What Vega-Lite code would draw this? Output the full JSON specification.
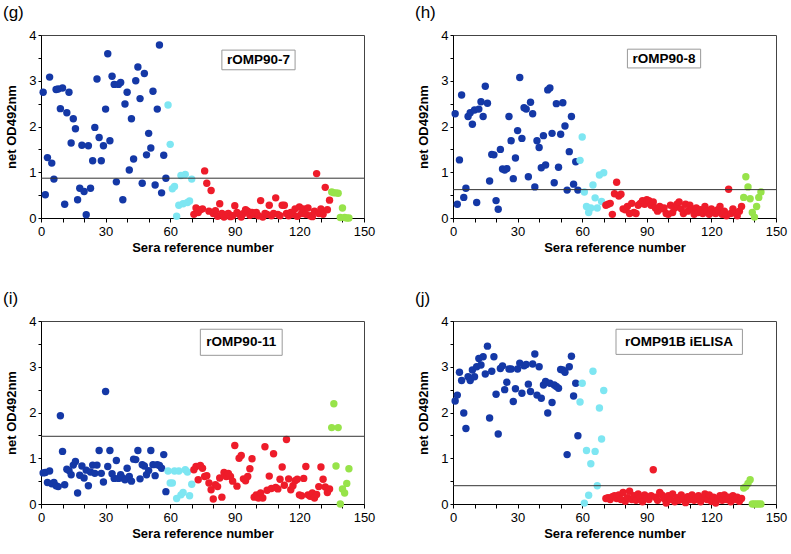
{
"$schema":"https://vega.github.io/schema/vega-lite/v6.json",
"background":"white",
"padding":{"left":2,"top":3,"right":5,"bottom":5},
"bounds":"flush",
"columns":2,
"spacing":{"row":103,"column":89},
"config":{"font":"Liberation Sans","view":{"stroke":"#444","strokeWidth":1},
"axis":{"grid":false,"domainColor":"#000","tickColor":"#000","labelColor":"#000","titleColor":"#000","labelFontSize":13,"titleFontSize":13,"titleFontWeight":"bold","labelFlush":false,"labelOverlap":false,"tickCount":30},
"axisX":{"tickSize":4,"labelPadding":3,"titlePadding":3},
"axisY":{"tickSize":3,"labelPadding":2,"titlePadding":10},
"title":{"fontSize":17,"fontWeight":"normal","color":"#000","anchor":"start","frame":"group","dx":-38,"offset":7}},
"datasets":{"sera":[
{"n":1,"s":"a","g":2.75,"h":2.28,"i":0.68,"j":2.25},
{"n":2,"s":"a","g":0.51,"h":0.3,"i":0.69,"j":2.38},
{"n":3,"s":"a","g":1.32,"h":1.27,"i":0.47,"j":2.88},
{"n":4,"s":"a","g":3.08,"h":2.69,"i":0.72,"j":2.7},
{"n":5,"s":"a","g":1.2,"h":0.45,"i":0.44,"j":1.99},
{"n":6,"s":"a","g":0.85,"h":0.65,"i":0.47,"j":1.65},
{"n":7,"s":"a","g":2.81,"h":2.22,"i":0.4,"j":2.78},
{"n":8,"s":"a","g":2.82,"h":2.3,"i":0.38,"j":2.7},
{"n":9,"s":"a","g":2.39,"h":2.05,"i":1.93,"j":2.93},
{"n":10,"s":"a","g":2.84,"h":2.36,"i":1.15,"j":2.78},
{"n":11,"s":"a","g":0.3,"h":0.34,"i":0.42,"j":3.0},
{"n":12,"s":"a","g":2.3,"h":2.38,"i":0.76,"j":3.18},
{"n":13,"s":"a","g":2.75,"h":2.54,"i":0.73,"j":3.04},
{"n":14,"s":"a","g":1.64,"h":2.22,"i":0.64,"j":3.22},
{"n":15,"s":"a","g":2.17,"h":2.88,"i":0.85,"j":2.84},
{"n":16,"s":"a","g":1.95,"h":2.51,"i":0.93,"j":3.45},
{"n":17,"s":"a","g":0.4,"h":0.81,"i":0.24,"j":1.88},
{"n":18,"s":"a","g":0.65,"h":1.39,"i":0.63,"j":2.9},
{"n":19,"s":"a","g":1.59,"h":1.38,"i":0.83,"j":3.22},
{"n":20,"s":"a","g":0.58,"h":0.38,"i":0.57,"j":2.4},
{"n":21,"s":"a","g":0.07,"h":0.19,"i":0.74,"j":1.53},
{"n":22,"s":"a","g":1.58,"h":1.5,"i":0.4,"j":2.96},
{"n":23,"s":"a","g":0.65,"h":1.07,"i":0.7,"j":3.02},
{"n":24,"s":"a","g":1.25,"h":1.05,"i":0.85,"j":2.5},
{"n":25,"s":"a","g":1.98,"h":1.08,"i":0.67,"j":2.66},
{"n":26,"s":"a","g":3.04,"h":2.22,"i":0.85,"j":2.95},
{"n":27,"s":"a","g":1.76,"h":1.69,"i":1.17,"j":2.95},
{"n":28,"s":"a","g":1.25,"h":0.86,"i":0.67,"j":2.24},
{"n":29,"s":"a","g":1.58,"h":1.31,"i":0.48,"j":2.52},
{"n":30,"s":"a","g":2.38,"h":1.91,"i":2.46,"j":2.95},
{"n":31,"s":"a","g":3.59,"h":3.07,"i":0.82,"j":3.08},
{"n":32,"s":"a","g":1.69,"h":1.74,"i":1.17,"j":2.42},
{"n":33,"s":"a","g":3.1,"h":2.41,"i":0.66,"j":3.02},
{"n":34,"s":"a","g":2.92,"h":2.38,"i":0.56,"j":3.05},
{"n":35,"s":"a","g":0.79,"h":0.9,"i":0.95,"j":2.62},
{"n":36,"s":"a","g":2.92,"h":2.53,"i":0.56,"j":2.46},
{"n":37,"s":"a","g":2.96,"h":2.28,"i":0.64,"j":3.06},
{"n":38,"s":"a","g":0.4,"h":0.68,"i":0.57,"j":3.28},
{"n":39,"s":"a","g":2.49,"h":1.69,"i":0.53,"j":2.38},
{"n":40,"s":"a","g":2.75,"h":1.54,"i":0.78,"j":3.0},
{"n":41,"s":"a","g":1.05,"h":1.1,"i":0.6,"j":2.31},
{"n":42,"s":"a","g":2.17,"h":1.8,"i":0.5,"j":2.6},
{"n":43,"s":"a","g":1.29,"h":1.16,"i":0.98,"j":2.68},
{"n":44,"s":"a","g":3.0,"h":2.8,"i":0.97,"j":1.99},
{"n":45,"s":"a","g":3.3,"h":2.84,"i":1.17,"j":2.64},
{"n":46,"s":"a","g":2.61,"h":1.85,"i":0.55,"j":2.22},
{"n":47,"s":"a","g":0.76,"h":0.77,"i":0.86,"j":2.6},
{"n":48,"s":"a","g":3.16,"h":2.5,"i":0.83,"j":2.57},
{"n":49,"s":"a","g":1.38,"h":1.11,"i":0.64,"j":2.53},
{"n":50,"s":"a","g":1.85,"h":1.83,"i":0.73,"j":2.94},
{"n":51,"s":"a","g":1.53,"h":2.52,"i":1.17,"j":2.93},
{"n":52,"s":"a","g":2.77,"h":2.01,"i":0.86,"j":2.88},
{"n":53,"s":"a","g":0.72,"h":0.61,"i":0.62,"j":1.08},
{"n":54,"s":"a","g":2.38,"h":1.45,"i":0.86,"j":3.0},
{"n":55,"s":"a","g":3.78,"h":2.22,"i":0.84,"j":3.23},
{"n":56,"s":"a","g":0.55,"h":0.74,"i":0.78,"j":2.36},
{"n":57,"s":"a","g":1.37,"h":1.23,"i":1.08,"j":2.64},
{"n":58,"s":"a","g":0.87,"h":0.61,"i":0.27,"j":1.49},
{"n":59,"s":"b","g":2.47,"h":1.26,"i":0.72,"j":2.23},
{"n":60,"s":"b","g":1.61,"h":1.77,"i":0.46,"j":2.64},
{"n":61,"s":"b","g":0.64,"h":0.57,"i":0.46,"j":0.02},
{"n":62,"s":"b","g":0.69,"h":0.25,"i":0.72,"j":1.17},
{"n":63,"s":"b","g":0.04,"h":0.12,"i":0.12,"j":0.19},
{"n":64,"s":"b","g":0.28,"h":0.22,"i":0.72,"j":0.88},
{"n":65,"s":"b","g":0.93,"h":0.72,"i":0.2,"j":2.9},
{"n":66,"s":"b","g":0.31,"h":0.44,"i":0.25,"j":1.15},
{"n":67,"s":"b","g":0.95,"h":0.22,"i":0.75,"j":0.4},
{"n":68,"s":"b","g":0.34,"h":0.94,"i":0.7,"j":2.1},
{"n":69,"s":"b","g":0.37,"h":0.36,"i":0.18,"j":1.42},
{"n":70,"s":"b","g":0.85,"h":0.99,"i":0.43,"j":2.48},
{"n":71,"s":"c","g":0.08,"h":0.28,"i":0.75,"j":0.12},
{"n":72,"s":"c","g":0.22,"h":0.3,"i":0.82,"j":0.14},
{"n":73,"s":"c","g":0.12,"h":0.32,"i":0.53,"j":0.1},
{"n":74,"s":"c","g":0.18,"h":0.08,"i":0.84,"j":0.16},
{"n":75,"s":"c","g":0.2,"h":0.53,"i":0.78,"j":0.18},
{"n":76,"s":"c","g":1.03,"h":0.78,"i":0.6,"j":0.12},
{"n":77,"s":"c","g":0.76,"h":0.48,"i":0.62,"j":0.2},
{"n":78,"s":"c","g":0.15,"h":0.52,"i":0.46,"j":0.1},
{"n":79,"s":"c","g":0.6,"h":0.2,"i":0.31,"j":0.25},
{"n":80,"s":"c","g":0.1,"h":0.18,"i":0.11,"j":0.06},
{"n":81,"s":"c","g":0.16,"h":0.25,"i":0.42,"j":0.14},
{"n":82,"s":"c","g":0.04,"h":0.1,"i":0.38,"j":0.28},
{"n":83,"s":"c","g":0.31,"h":0.32,"i":0.57,"j":0.1},
{"n":84,"s":"c","g":0.1,"h":0.12,"i":0.15,"j":0.18},
{"n":85,"s":"c","g":0.02,"h":0.1,"i":0.69,"j":0.08},
{"n":86,"s":"c","g":0.08,"h":0.28,"i":0.6,"j":0.22},
{"n":87,"s":"c","g":0.1,"h":0.32,"i":0.67,"j":0.15},
{"n":88,"s":"c","g":0.03,"h":0.38,"i":0.6,"j":0.05},
{"n":89,"s":"c","g":0.05,"h":0.3,"i":0.5,"j":0.2},
{"n":90,"s":"c","g":0.27,"h":0.4,"i":1.28,"j":0.12},
{"n":91,"s":"c","g":0.12,"h":0.38,"i":0.39,"j":0.1},
{"n":92,"s":"c","g":0.08,"h":0.28,"i":1.0,"j":0.18},
{"n":93,"s":"c","g":0.02,"h":0.35,"i":1.06,"j":0.75},
{"n":94,"s":"c","g":0.1,"h":0.22,"i":0.55,"j":0.15},
{"n":95,"s":"c","g":0.18,"h":0.15,"i":0.51,"j":0.08},
{"n":96,"s":"c","g":0.15,"h":0.25,"i":0.6,"j":0.25},
{"n":97,"s":"c","g":0.06,"h":0.2,"i":0.77,"j":0.2},
{"n":98,"s":"c","g":0.12,"h":0.22,"i":0.99,"j":0.12},
{"n":99,"s":"c","g":0.08,"h":0.1,"i":0.15,"j":0.02},
{"n":100,"s":"c","g":0.12,"h":0.08,"i":0.2,"j":0.18},
{"n":101,"s":"c","g":0.05,"h":0.28,"i":0.13,"j":0.1},
{"n":102,"s":"c","g":0.38,"h":0.12,"i":0.24,"j":0.22},
{"n":103,"s":"c","g":0.02,"h":0.22,"i":0.13,"j":0.05},
{"n":104,"s":"c","g":0.1,"h":0.3,"i":1.25,"j":0.14},
{"n":105,"s":"c","g":0.08,"h":0.35,"i":0.3,"j":0.08},
{"n":106,"s":"c","g":0.28,"h":0.2,"i":0.61,"j":0.2},
{"n":107,"s":"c","g":0.05,"h":0.1,"i":0.34,"j":0.12},
{"n":108,"s":"c","g":0.1,"h":0.3,"i":1.1,"j":0.03},
{"n":109,"s":"c","g":0.44,"h":0.15,"i":0.36,"j":0.16},
{"n":110,"s":"c","g":0.08,"h":0.28,"i":0.33,"j":0.1},
{"n":111,"s":"c","g":0.05,"h":0.2,"i":0.54,"j":0.2},
{"n":112,"s":"c","g":0.28,"h":0.08,"i":0.81,"j":0.08},
{"n":113,"s":"c","g":0.28,"h":0.22,"i":0.41,"j":0.14},
{"n":114,"s":"c","g":0.1,"h":0.12,"i":1.41,"j":0.18},
{"n":115,"s":"c","g":0.05,"h":0.18,"i":0.55,"j":0.05},
{"n":116,"s":"c","g":0.12,"h":0.1,"i":0.31,"j":0.12},
{"n":117,"s":"c","g":0.08,"h":0.25,"i":0.4,"j":0.22},
{"n":118,"s":"c","g":0.2,"h":0.15,"i":0.51,"j":0.1},
{"n":119,"s":"c","g":0.04,"h":0.08,"i":0.54,"j":0.2},
{"n":120,"s":"c","g":0.24,"h":0.2,"i":0.2,"j":0.06},
{"n":121,"s":"c","g":0.1,"h":0.12,"i":0.18,"j":0.15},
{"n":122,"s":"c","g":0.2,"h":0.1,"i":0.56,"j":0.02},
{"n":123,"s":"c","g":0.08,"h":0.18,"i":0.82,"j":0.12},
{"n":124,"s":"c","g":0.22,"h":0.25,"i":0.2,"j":0.18},
{"n":125,"s":"c","g":0.05,"h":0.08,"i":0.17,"j":0.08},
{"n":126,"s":"c","g":0.03,"h":0.15,"i":0.24,"j":0.2},
{"n":127,"s":"c","g":0.15,"h":0.05,"i":0.13,"j":0.1},
{"n":128,"s":"c","g":0.97,"h":0.63,"i":0.21,"j":0.15},
{"n":129,"s":"c","g":0.1,"h":0.1,"i":0.38,"j":0.05},
{"n":130,"s":"c","g":0.2,"h":0.2,"i":0.81,"j":0.18},
{"n":131,"s":"c","g":0.08,"h":0.12,"i":0.54,"j":0.1},
{"n":132,"s":"c","g":0.67,"h":0.05,"i":0.37,"j":0.15},
{"n":133,"s":"c","g":0.18,"h":0.15,"i":0.25,"j":0.06},
{"n":134,"s":"c","g":0.39,"h":0.25,"i":0.33,"j":0.12},
{"n":135,"s":"d","g":0.57,"h":0.45,"i":1.67,"j":0.35},
{"n":136,"s":"d","g":0.55,"h":0.9,"i":2.19,"j":0.38},
{"n":137,"s":"d","g":0.55,"h":0.68,"i":0.83,"j":0.45},
{"n":138,"s":"d","g":0.54,"h":0.42,"i":1.67,"j":0.53},
{"n":139,"s":"d","g":0.01,"h":0.12,"i":0.0,"j":0.0},
{"n":140,"s":"d","g":0.22,"h":0.02,"i":0.33,"j":0.0},
{"n":141,"s":"d","g":0.01,"h":0.25,"i":0.24,"j":0.0},
{"n":142,"s":"d","g":0.0,"h":0.45,"i":0.45,"j":0.0},
{"n":143,"s":"d","g":0.0,"h":0.57,"i":0.77,"j":0.0}
]},
"concat":[
{"width":323,"height":183,"title":{"text":"(g)"},
"layer":[
{"data":{"name":"sera"},"mark":{"type":"circle","size":55,"opacity":1},
"encoding":{"x":{"field":"n","type":"quantitative","scale":{"domain":[0,150],"nice":false},"axis":{"title":"Sera reference number","labelOverlap":false,"tickCount":30,"values":[0,10,20,30,40,50,60,70,80,90,100,110,120,130,140,150],"labelExpr":"datum.value % 30 === 0 ? format(datum.value, 'd') : ''"}},
"y":{"field":"g","type":"quantitative","scale":{"domain":[0,4],"nice":false},"axis":{"title":"net OD492nm","labelOverlap":false,"tickCount":30,"values":[0,0.5,1,1.5,2,2.5,3,3.5,4],"labelExpr":"datum.value % 1 === 0 ? format(datum.value, 'd') : ''"}},
"color":{"field":"s","type":"nominal","scale":{"domain":["a","b","c","d"],"range":["#1438a6","#7ee6f2","#ee1c2a","#97e34a"]},"legend":null}}},
{"data":{"values":[{}]},"mark":{"type":"rule","color":"#333","strokeWidth":1},"encoding":{"y":{"datum":0.87}}},
{"data":{"values":[{}]},"mark":{"type":"rect","fill":"white","stroke":"#999","strokeWidth":1},"encoding":{"x":{"datum":84},"x2":{"datum":118},"y":{"datum":3.67},"y2":{"datum":3.24}}},
{"data":{"values":[{}]},"mark":{"type":"text","fontWeight":"bold","fontSize":13.5,"color":"#000"},"encoding":{"x":{"datum":101},"y":{"datum":3.455},"text":{"value":"rOMP90-7"}}}
]},
{"width":323,"height":183,"title":{"text":"(h)"},
"layer":[
{"data":{"name":"sera"},"mark":{"type":"circle","size":55,"opacity":1},
"encoding":{"x":{"field":"n","type":"quantitative","scale":{"domain":[0,150],"nice":false},"axis":{"title":"Sera reference number","labelOverlap":false,"tickCount":30,"values":[0,10,20,30,40,50,60,70,80,90,100,110,120,130,140,150],"labelExpr":"datum.value % 30 === 0 ? format(datum.value, 'd') : ''"}},
"y":{"field":"h","type":"quantitative","scale":{"domain":[0,4],"nice":false},"axis":{"title":"net OD492nm","labelOverlap":false,"tickCount":30,"values":[0,0.5,1,1.5,2,2.5,3,3.5,4],"labelExpr":"datum.value % 1 === 0 ? format(datum.value, 'd') : ''"}},
"color":{"field":"s","type":"nominal","scale":{"domain":["a","b","c","d"],"range":["#1438a6","#7ee6f2","#ee1c2a","#97e34a"]},"legend":null}}},
{"data":{"values":[{}]},"mark":{"type":"rule","color":"#333","strokeWidth":1},"encoding":{"y":{"datum":0.62}}},
{"data":{"values":[{}]},"mark":{"type":"rect","fill":"white","stroke":"#999","strokeWidth":1},"encoding":{"x":{"datum":81},"x2":{"datum":115},"y":{"datum":3.69},"y2":{"datum":3.28}}},
{"data":{"values":[{}]},"mark":{"type":"text","fontWeight":"bold","fontSize":13.5,"color":"#000"},"encoding":{"x":{"datum":98},"y":{"datum":3.485},"text":{"value":"rOMP90-8"}}}
]},
{"width":323,"height":183,"title":{"text":"(i)"},
"layer":[
{"data":{"name":"sera"},"mark":{"type":"circle","size":55,"opacity":1},
"encoding":{"x":{"field":"n","type":"quantitative","scale":{"domain":[0,150],"nice":false},"axis":{"title":"Sera reference number","labelOverlap":false,"tickCount":30,"values":[0,10,20,30,40,50,60,70,80,90,100,110,120,130,140,150],"labelExpr":"datum.value % 30 === 0 ? format(datum.value, 'd') : ''"}},
"y":{"field":"i","type":"quantitative","scale":{"domain":[0,4],"nice":false},"axis":{"title":"net OD492nm","labelOverlap":false,"tickCount":30,"values":[0,0.5,1,1.5,2,2.5,3,3.5,4],"labelExpr":"datum.value % 1 === 0 ? format(datum.value, 'd') : ''"}},
"color":{"field":"s","type":"nominal","scale":{"domain":["a","b","c","d"],"range":["#1438a6","#7ee6f2","#ee1c2a","#97e34a"]},"legend":null}}},
{"data":{"values":[{}]},"mark":{"type":"rule","color":"#333","strokeWidth":1},"encoding":{"y":{"datum":1.48}}},
{"data":{"values":[{}]},"mark":{"type":"rect","fill":"white","stroke":"#999","strokeWidth":1},"encoding":{"x":{"datum":74},"x2":{"datum":112},"y":{"datum":3.82},"y2":{"datum":3.25}}},
{"data":{"values":[{}]},"mark":{"type":"text","fontWeight":"bold","fontSize":13.5,"color":"#000"},"encoding":{"x":{"datum":93},"y":{"datum":3.535},"text":{"value":"rOMP90-11"}}}
]},
{"width":323,"height":183,"title":{"text":"(j)"},
"layer":[
{"data":{"name":"sera"},"mark":{"type":"circle","size":55,"opacity":1},
"encoding":{"x":{"field":"n","type":"quantitative","scale":{"domain":[0,150],"nice":false},"axis":{"title":"Sera reference number","labelOverlap":false,"tickCount":30,"values":[0,10,20,30,40,50,60,70,80,90,100,110,120,130,140,150],"labelExpr":"datum.value % 30 === 0 ? format(datum.value, 'd') : ''"}},
"y":{"field":"j","type":"quantitative","scale":{"domain":[0,4],"nice":false},"axis":{"title":"net OD492nm","labelOverlap":false,"tickCount":30,"values":[0,0.5,1,1.5,2,2.5,3,3.5,4],"labelExpr":"datum.value % 1 === 0 ? format(datum.value, 'd') : ''"}},
"color":{"field":"s","type":"nominal","scale":{"domain":["a","b","c","d"],"range":["#1438a6","#7ee6f2","#ee1c2a","#97e34a"]},"legend":null}}},
{"data":{"values":[{}]},"mark":{"type":"rule","color":"#333","strokeWidth":1},"encoding":{"y":{"datum":0.4}}},
{"data":{"values":[{}]},"mark":{"type":"rect","fill":"white","stroke":"#999","strokeWidth":1},"encoding":{"x":{"datum":75.7},"x2":{"datum":134.4},"y":{"datum":3.82},"y2":{"datum":3.27}}},
{"data":{"values":[{}]},"mark":{"type":"text","fontWeight":"bold","fontSize":13.5,"color":"#000"},"encoding":{"x":{"datum":105},"y":{"datum":3.545},"text":{"value":"rOMP91B iELISA"}}}
]}
]
}
